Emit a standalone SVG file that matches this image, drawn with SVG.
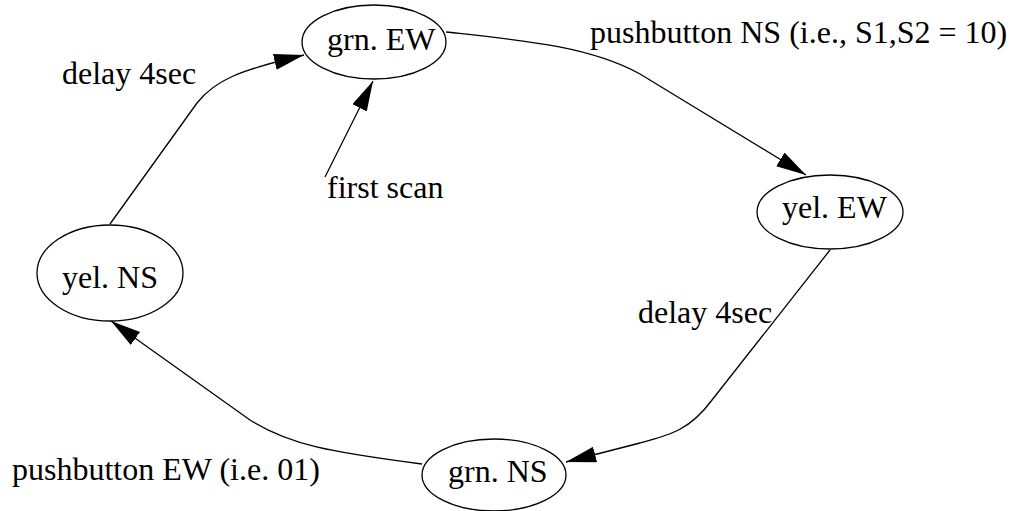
<svg xmlns="http://www.w3.org/2000/svg" width="1016" height="511" viewBox="0 0 1016 511">
<defs>
<style>
.node ellipse{fill:#fff;stroke:#000;stroke-width:1.3}
text{font-family:"Liberation Serif","Times New Roman",serif;font-size:32px;fill:#000}
.edge{fill:none;stroke:#000;stroke-width:1.3}
</style>
<marker id="arr" markerUnits="userSpaceOnUse" markerWidth="32" markerHeight="18" refX="30" refY="8" orient="auto">
<path d="M0,0 L30,8 L0,16 z" fill="#000"/>
</marker>
</defs>
<rect width="1016" height="511" fill="#fff"/>
<g id="connectors">
<path class="edge" d="M446,32 C520,40 590,46 640,74 L806,175" marker-end="url(#arr)"/>
<path class="edge" d="M830,250 L712,400 C690,430 670,435 640,443 L566,462" marker-end="url(#arr)"/>
<path class="edge" d="M422,464 C330,452 290,445 250,420 L111,321" marker-end="url(#arr)"/>
<path class="edge" d="M110,224 L197,103 C215,80 240,70 304,55" marker-end="url(#arr)"/>
<path class="edge" d="M325,177 L373,81" marker-end="url(#arr)"/>
</g>
<g id="grnEW" class="node"><ellipse cx="374" cy="42" rx="72" ry="37"/><text x="327" y="50">grn. EW</text></g>
<g id="yelEW" class="node"><ellipse cx="830" cy="212" rx="73" ry="37"/><text x="782" y="218">yel. EW</text></g>
<g id="yelNS" class="node"><ellipse cx="110" cy="273" rx="73" ry="48"/><text x="62" y="288">yel. NS</text></g>
<g id="grnNS" class="node"><ellipse cx="494" cy="475" rx="72" ry="36"/><text x="448" y="482">grn. NS</text></g>
<g id="labels">
<text x="590" y="43">pushbutton NS (i.e., S1,S2 = 10)</text>
<text x="62" y="84">delay 4sec</text>
<text x="327" y="198">first scan</text>
<text x="638" y="323">delay 4sec</text>
<text x="12" y="480">pushbutton EW (i.e. 01)</text>
</g>
</svg>
